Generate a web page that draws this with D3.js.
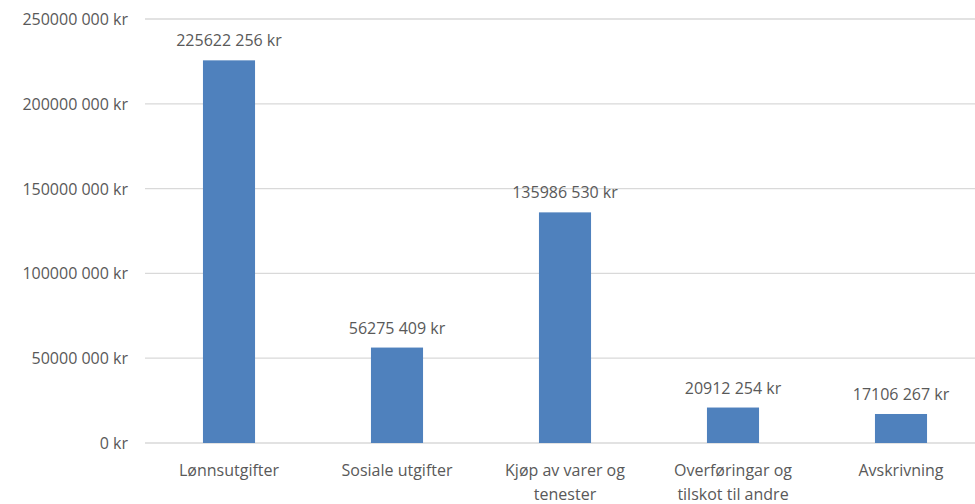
<!DOCTYPE html>
<html>
<head>
<meta charset="utf-8">
<script src="https://cdn.jsdelivr.net/npm/d3@7"></script>
<style>
  body { margin: 0; background: #fff; }
  text { font-family: "Open Sans", sans-serif; fill: #595959; }
</style>
</head>
<body>
<script>
var width = 975,
    height = 504;

var categories = [
  ["Lønnsutgifter"],
  ["Sosiale utgifter"],
  ["Kjøp av varer og", "tenester"],
  ["Overføringar og", "tilskot til andre"],
  ["Avskrivning"]
];
var values = [225622256, 56275409, 135986530, 20912254, 17106267];
var yTicks = [0, 50000000, 100000000, 150000000, 200000000, 250000000];

// the source only puts a space before the last group of three
function kr(v) {
  var s = String(Math.round(v));
  if (s.length > 3) s = s.slice(0, -3) + " " + s.slice(-3);
  return s + " kr";
}

var svg = d3.select("body").append("svg")
    .attr("width", width)
    .attr("height", height);

var x = d3.scaleBand()
    .domain(d3.range(values.length))
    .range([145, 985])
    .paddingInner(0.69)
    .paddingOuter(0.345);

var y = d3.scaleLinear()
    .domain([0, 250000000])
    .range([443, 19]);

// gridlines
svg.selectAll(".grid")
  .data(yTicks)
  .enter().append("line")
    .attr("class", "grid")
    .attr("x1", 145)
    .attr("x2", 985)
    .attr("y1", function(d) { return y(d); })
    .attr("y2", function(d) { return y(d); })
    .attr("stroke", "#d9d9d9")
    .attr("stroke-width", 1.3);

// y axis labels
svg.selectAll(".ylab")
  .data(yTicks)
  .enter().append("text")
    .attr("class", "ylab")
    .attr("x", 128)
    .attr("y", function(d) { return y(d) + 6; })
    .attr("text-anchor", "end")
    .style("font-size", "16px")
    .text(kr);

// bars
svg.selectAll(".bar")
  .data(values)
  .enter().append("rect")
    .attr("class", "bar")
    .attr("x", function(d, i) { return x(i); })
    .attr("width", x.bandwidth())
    .attr("y", function(d) { return y(d); })
    .attr("height", function(d) { return y(0) - y(d); })
    .attr("fill", "#4f81bd");

// value labels
svg.selectAll(".val")
  .data(values)
  .enter().append("text")
    .attr("class", "val")
    .attr("x", function(d, i) { return x(i) + x.bandwidth() / 2; })
    .attr("y", function(d) { return y(d) - 14; })
    .attr("text-anchor", "middle")
    .style("font-size", "16px")
    .text(kr);

// category labels
var cat = svg.selectAll(".cat")
  .data(categories)
  .enter().append("text")
    .attr("class", "cat")
    .attr("text-anchor", "middle")
    .style("font-size", "16px");

cat.selectAll("tspan")
  .data(function(d, i) { return d.map(function(t) { return {t: t, i: i}; }); })
  .enter().append("tspan")
    .attr("x", function(d) { return x(d.i) + x.bandwidth() / 2; })
    .attr("y", function(d, j) { return 476 + j * 24; })
    .text(function(d) { return d.t; });
</script>
</body>
</html>
